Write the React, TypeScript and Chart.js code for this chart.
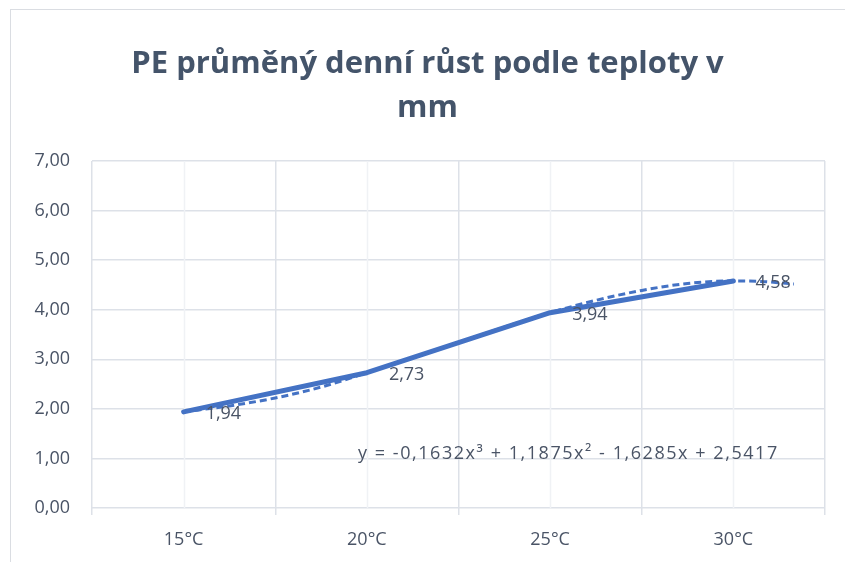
import React, { useEffect, useRef } from "react";
import { Chart, registerables } from "chart.js";

Chart.register(...registerables);

const TITLE_LINES = ["PE průměný denní růst podle teploty v", "mm"];
const CATEGORIES = ["15°C", "20°C", "25°C", "30°C"];
const GROWTH = [1.94, 2.73, 3.94, 4.58];
const VALUE_LABELS = ["1,94", "2,73", "3,94", "4,58"];
// dashed polynomial trendline (x in category units, 1 = 15°C)
const TREND_X = [1, 1.25, 1.5, 1.75, 2, 2.25, 2.5, 2.75, 3, 3.25, 3.5, 3.75, 4, 4.15, 4.33];
const TREND_Y = [1.94, 2.06, 2.22, 2.44, 2.73, 3.03, 3.34, 3.65, 3.94, 4.19, 4.39, 4.53, 4.58, 4.57, 4.52];
const EQUATION = "y = -0,1632x³ + 1,1875x² - 1,6285x + 2,5417";
const Y_MIN = 0;
const Y_MAX = 7;
const Y_STEP = 1;

const FONT = "'Open Sans', Lato, 'Liberation Sans', sans-serif";
const TEXT = "#4a5466";
const LINE = "#4472C4";
const GRID = "#dde1e8";
const MINOR = "#f0f2f5";

const extras = {
  id: "extras",
  beforeDatasetsDraw(chart: any) {
    const { ctx, chartArea } = chart;
    const x = chart.scales.x;
    ctx.save();
    ctx.strokeStyle = MINOR;
    ctx.lineWidth = 1.5;
    CATEGORIES.forEach((_, i) => {
      const px = Math.round(x.getPixelForValue(i)) + 0.5;
      ctx.beginPath();
      ctx.moveTo(px, chartArea.top);
      ctx.lineTo(px, chartArea.bottom);
      ctx.stroke();
    });
    ctx.restore();
  },
  afterDatasetsDraw(chart: any) {
    const { ctx, chartArea } = chart;
    const meta = chart.getDatasetMeta(0);
    ctx.save();
    ctx.font = `18px ${FONT}`;
    ctx.fillStyle = TEXT;
    ctx.textBaseline = "middle";
    ctx.textAlign = "left";
    meta.data.forEach((pt: any, i: number) => {
      ctx.fillText(VALUE_LABELS[i], pt.x + 22, pt.y + 2);
    });
    const ys = chart.scales.y;
    (ctx as any).letterSpacing = "1.55px";
    ctx.fillText(EQUATION, chartArea.left + 266, ys.getPixelForValue(1.1));
    ctx.restore();
  },
};

export default function App() {
  const ref = useRef<HTMLCanvasElement>(null);
  useEffect(() => {
    if (!ref.current) return;
    const chart = new Chart(ref.current, {
      type: "line",
      data: {
        labels: CATEGORIES,
        datasets: [
          {
            data: GROWTH,
            borderColor: LINE,
            borderWidth: 5,
            pointRadius: 0,
            tension: 0,
            borderCapStyle: "round",
            borderJoinStyle: "round",
            xAxisID: "x",
            order: 1,
          },
          {
            data: TREND_X.map((v, i) => ({ x: v - 1, y: TREND_Y[i] })),
            borderColor: LINE,
            borderWidth: 3,
            borderDash: [7, 4],
            pointRadius: 0,
            tension: 0.4,
            cubicInterpolationMode: "monotone",
            xAxisID: "xt",
            order: 2,
          } as any,
        ],
      },
      options: {
        animation: false,
        responsive: false,
        maintainAspectRatio: false,
        layout: { padding: { left: 30, right: 20, top: 0, bottom: 0 } },
        plugins: {
          legend: { display: false },
          tooltip: { enabled: false },
          title: {
            display: true,
            text: TITLE_LINES,
            color: "#44546A",
            font: { family: FONT, size: 31, weight: "bold", lineHeight: 1.42 },
            padding: { top: 42, bottom: 31 },
          },
        },
        scales: {
          x: {
            type: "category",
            offset: true,
            afterFit(scale: any) {
              scale.height = 54;
            },
            grid: {
              offset: true,
              color: GRID,
              lineWidth: 1.5,
              drawTicks: true,
              tickLength: 7,
            },
            border: { display: false },
            ticks: {
              color: TEXT,
              font: { family: FONT, size: 18 },
              padding: 14,
            },
          },
          xt: {
            type: "linear",
            display: false,
            min: -0.5,
            max: 3.5,
          },
          y: {
            min: Y_MIN,
            max: Y_MAX,
            afterFit(scale: any) {
              scale.width = 62;
            },
            grid: { color: GRID, lineWidth: 1.5, drawTicks: false },
            border: { display: false },
            ticks: {
              stepSize: Y_STEP,
              color: TEXT,
              padding: 22,
              font: { family: FONT, size: 18 },
              callback: (v: any) => Number(v).toFixed(2).replace(".", ","),
            },
          },
        },
      },
      plugins: [extras],
    });
    return () => chart.destroy();
  }, []);

  return (
    <div style={{ position: "fixed", left: 0, top: 0, width: 845, height: 562, background: "#fff", overflow: "hidden" }}>
      <div
        style={{
          position: "absolute",
          left: 10,
          top: 9,
          width: 860,
          height: 580,
          border: "1.5px solid #dadde2",
          boxSizing: "border-box",
        }}
      />
      <canvas ref={ref} width={845} height={562} style={{ position: "absolute", left: 0, top: 0 }} />
    </div>
  );
}
